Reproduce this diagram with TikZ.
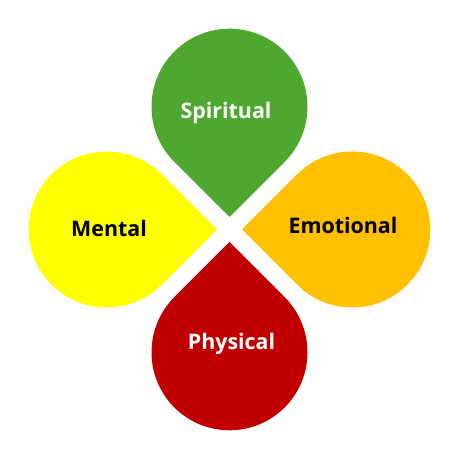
\documentclass[tikz,border=0pt]{standalone}
\usepackage{fontspec}
\setmainfont{Open Sans}
\definecolor{dgreen}{HTML}{4EA72E}
\definecolor{dyellow}{HTML}{FFFF00}
\definecolor{dorange}{HTML}{FFC000}
\definecolor{dred}{HTML}{C00000}
\tikzset{
  lbl/.style={font=\fontsize{21.5}{24}\selectfont\bfseries, inner sep=0pt, anchor=center},
}
\newcommand{\mytear}[4]{%
  \fill[#4, shift={(#1,#2)}, rotate=#3] (110.3,0) -- (45:78) arc[start angle=45,end angle=315,radius=78] -- cycle;}
\begin{document}
\begin{tikzpicture}[x=1bp,y=1bp]
\useasboundingbox (0,0) rectangle (455,454);
\mytear{229.5}{347.3}{270}{dgreen}
\mytear{106.7}{224.5}{0}{dyellow}
\mytear{352.3}{224.5}{180}{dorange}
\mytear{229.5}{101.7}{90}{dred}
\node[lbl, text=white] (spir) at (226,341) {Spiritual};
\node[lbl, text=black] (ment) at (109,226) {Mental};
\node[lbl, text=black] (emot) at (343,229) {Emotional};
\node[lbl, text=white] (phys) at (231.5,110) {Physical};
\end{tikzpicture}
\end{document}
